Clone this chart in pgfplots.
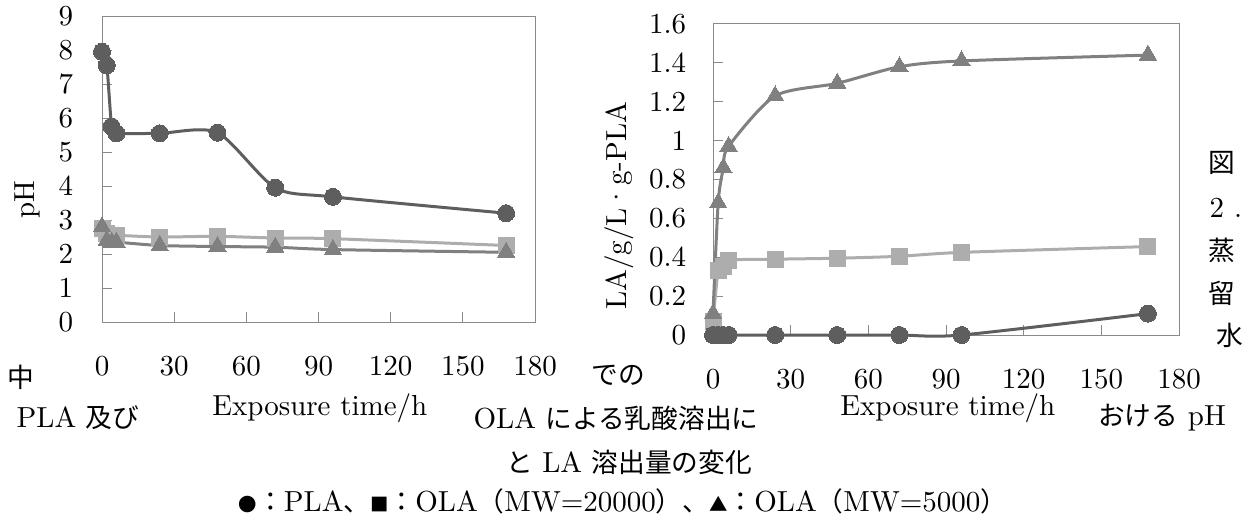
\documentclass[border=0pt]{standalone}
\usepackage{fontspec}
\setmainfont{lmroman10-regular.otf}
\usepackage{pgfplots}
\usepackage{pgfplotstable}
\pgfplotsset{compat=1.18}
\newfontfamily\jp{Noto Sans CJK JP}[Scale=0.92]
\newcommand\sym[1]{{\fontsize{20}{22}\selectfont\jp #1}}
\definecolor{cPLA}{HTML}{5E5E5E}
\definecolor{cOLAa}{HTML}{ADADAD}
\definecolor{cOLAb}{HTML}{808080}
\definecolor{frame}{HTML}{8A8A8A}

% left: pH
\pgfplotstableread{
t v
0 7.95
2 7.55
4 5.75
6 5.55
24 5.55
48 5.57
72 3.95
96 3.68
168 3.2
}\lPLA
\pgfplotstableread{
t v
0 2.75
2 2.6
4 2.55
6 2.55
24 2.5
48 2.52
72 2.47
96 2.45
168 2.25
}\lOLAa
\pgfplotstableread{
t v
0 2.8
2 2.4
4 2.35
6 2.35
24 2.25
48 2.22
72 2.2
96 2.13
168 2.05
}\lOLAb
% right: LA
\pgfplotstableread{
t v
0 0
2 0
4 0
6 0
24 0
48 0
72 0
96 0
168 0.11
}\rPLA
\pgfplotstableread{
t v
0 0.07
2 0.33
4 0.35
6 0.385
24 0.39
48 0.395
72 0.405
96 0.425
168 0.455
}\rOLAa
\pgfplotstableread{
t v
0 0.11
2 0.68
4 0.86
6 0.97
24 1.23
48 1.295
72 1.38
96 1.41
168 1.44
}\rOLAb

\pgfplotsset{
  base/.style={
    scale only axis, clip=false,
    xmin=0, xmax=180, xtick={0,30,...,180},
    tick align=inside, xtick pos=left, ytick pos=left,
    major tick length=10pt,
    axis line style={frame, line width=1pt},
    every tick/.style={frame, line width=1pt},
    /pgf/number format/assume math mode=true,
    every tick label/.append style={font=\fontsize{29}{34}\selectfont},
    label style={font=\fontsize{29}{34}\selectfont},
    xticklabel shift=24pt,
  },
  ser/.style={#1, line width=3pt, line join=round, smooth, tension=0.45,
    mark options={solid, fill=#1, draw=#1, line width=0pt}},
}

\begin{document}
\fontsize{29}{34}\selectfont
\begin{tikzpicture}[x=1pt,y=1pt]
\useasboundingbox (0,0) rectangle (1252,517);

\begin{axis}[base,
  at={(102pt,195pt)}, anchor=south west,
  width=433pt, height=306pt,
  ymin=0, ymax=9, ytick={0,1,...,9},
  yticklabel shift=19pt,
  xlabel={Exposure time/h}, ylabel={pH},
  xlabel style={at={(axis description cs:0.503,-0.281)}, anchor=center},
  ylabel style={at={(axis description cs:-0.173,0.399)}, anchor=center},
]
\addplot[ser=cOLAa, mark=square*, mark size=8pt] table[x=t,y=v]{\lOLAa};
\addplot[ser=cOLAb, mark=triangle*, mark size=10pt] table[x=t,y=v]{\lOLAb};
\addplot[ser=cPLA, mark=*, mark size=8.5pt] table[x=t,y=v]{\lPLA};
\end{axis}

\begin{axis}[base,
  at={(713pt,182pt)}, anchor=south west,
  width=466pt, height=311pt,
  ymin=0, ymax=1.6, ytick={0,0.2,...,1.6},
  yticklabel shift=17pt,
  yticklabel style={/pgf/number format/fixed},
  xlabel={Exposure time/h}, ylabel={LA/g/L\textperiodcentered g-PLA},
  xlabel style={at={(axis description cs:0.504,-0.235)}, anchor=center},
  ylabel style={at={(axis description cs:-0.2017,0.415)}, anchor=center},
]
\addplot[ser=cOLAa, mark=square*, mark size=8pt] table[x=t,y=v]{\rOLAa};
\addplot[ser=cOLAb, mark=triangle*, mark size=10pt] table[x=t,y=v]{\rOLAb};
\addplot[ser=cPLA, mark=*, mark size=8.5pt] table[x=t,y=v]{\rPLA};
\end{axis}

\node at (21,140) {\jp 中};
\node at (78,99) {PLA {\jp 及び}};
\node at (618,142) {\jp での};
\node at (616,99) {OLA {\jp による乳酸溶出に}};
\node at (629,55) {{\jp と} LA {\jp 溶出量の変化}};
\node at (1162,99) {{\jp おける} pH};
\node at (1222,354) {\jp 図};
\node at (1226,309) {2\hspace{10pt}.};
\node at (1222,267) {\jp 蒸};
\node at (1222,224) {\jp 留};
\node at (1230,182) {\jp 水};
\node at (623,16) {\sym{●}{\jp ：}PLA{\jp 、}\sym{■}{\jp ：}OLA{\jp （}MW=20000{\jp ）、}\sym{▲}{\jp ：}OLA{\jp （}MW=5000{\jp ）}};
\end{tikzpicture}
\end{document}
